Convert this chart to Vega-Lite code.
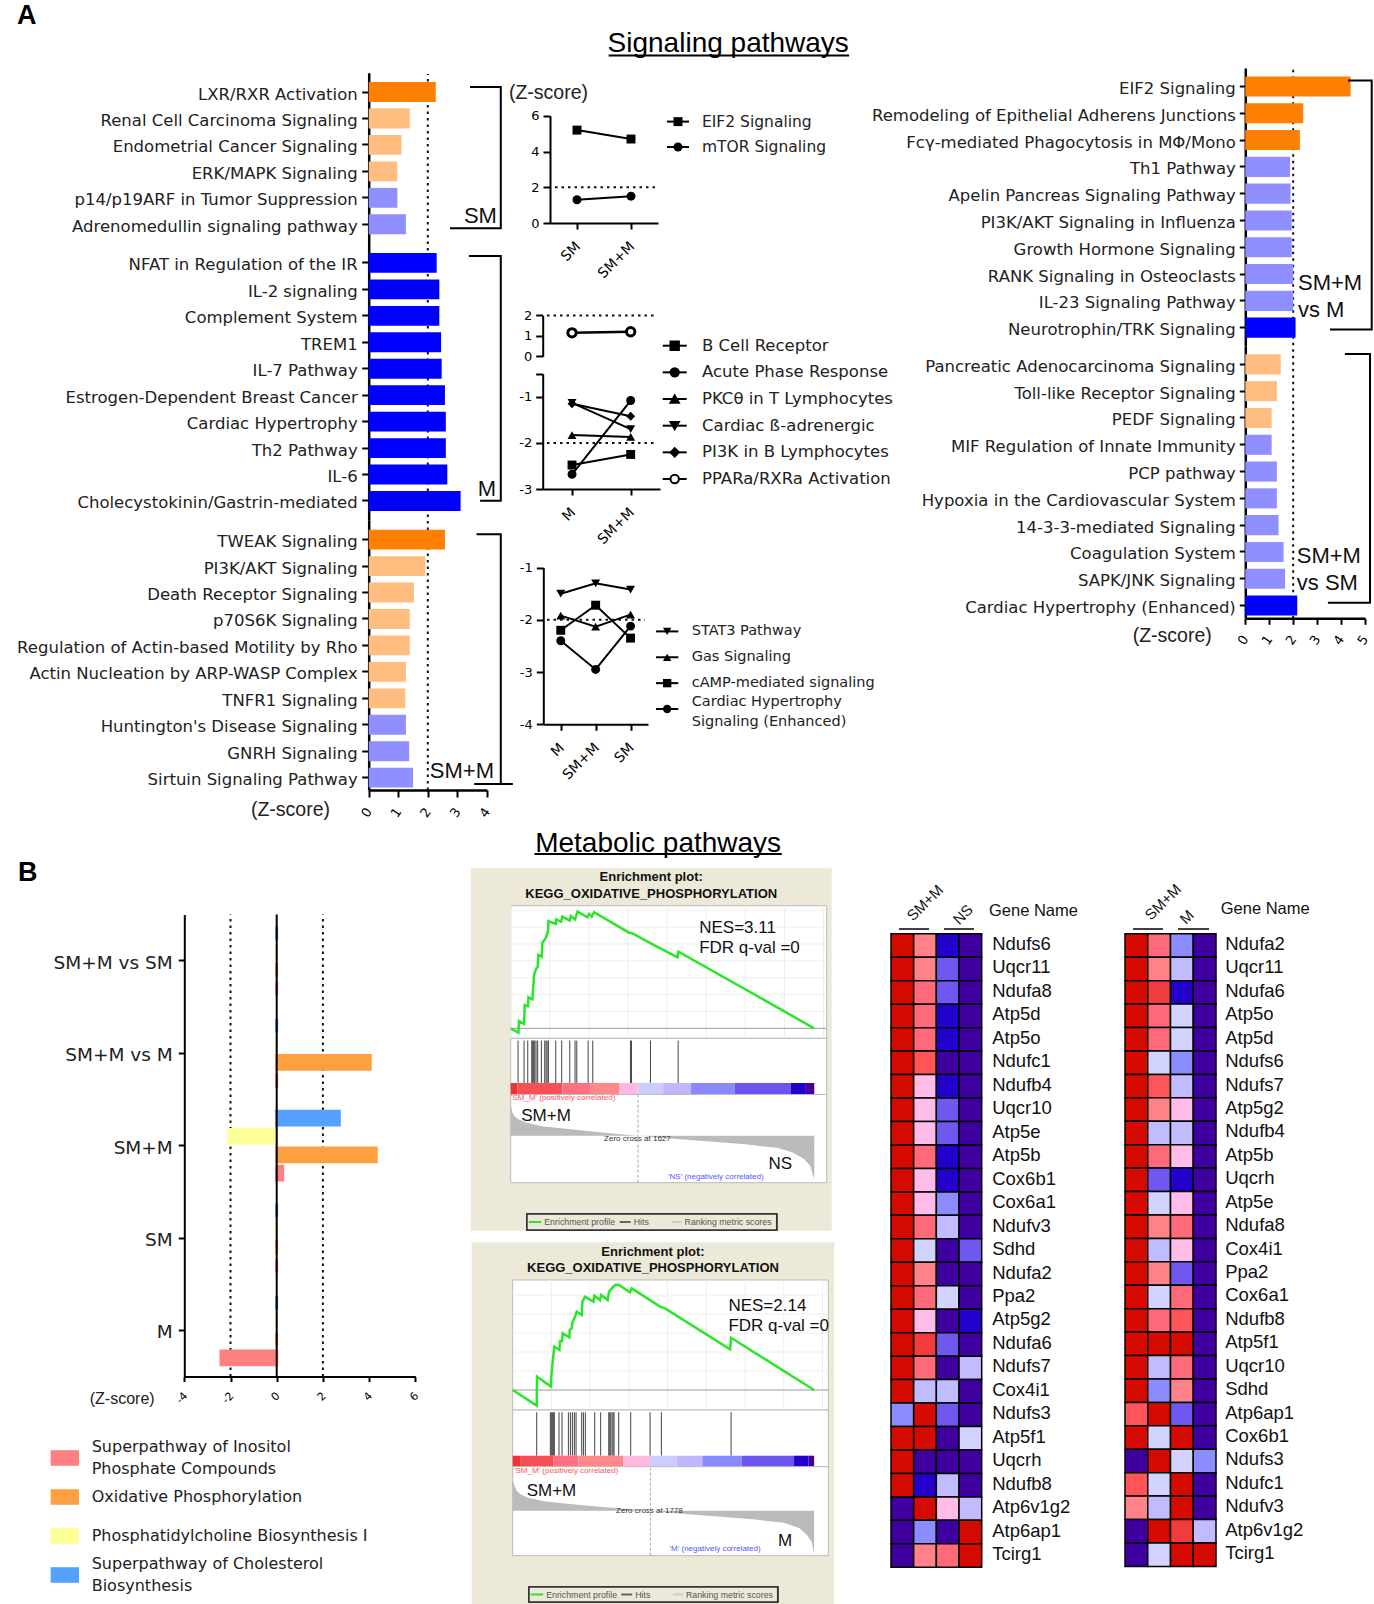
{"$schema":"https://vega.github.io/schema/vega-lite/v6.json","width":1374,"height":1604,"autosize":"none","padding":0,"background":"white",
"config":{"view":{"stroke":null},"font":"Liberation Sans","axis":{"grid":false,"zindex":1,"labelOverlap":false,"labelBound":false,"labelFlush":false,"titleFontWeight":"normal","titleFont":"Liberation Sans","labelFont":"Liberation Sans"}},
"resolve":{"scale":{"x":"independent","y":"independent","color":"independent","shape":"independent","stroke":"independent"},"axis":{"x":"independent","y":"independent"}},
"layer":[
{"layer":[
{"data":{"values":[{"t":"A"}]},"mark":{"type":"text","align":"left","baseline":"middle","fontWeight":"bold","fontSize":27,"font":"Liberation Sans","color":"#000"},"encoding":{"text":{"field":"t"},"x":{"datum":1.24,"scale":{"domain":[0,100],"range":[0,1374]},"axis":null},"y":{"datum":1.0,"scale":{"domain":[0,100],"range":[0,1604]},"axis":null}}},
{"data":{"values":[{"t":"B"}]},"mark":{"type":"text","align":"left","baseline":"middle","fontWeight":"bold","fontSize":27,"color":"#000"},"encoding":{"text":{"field":"t"},"x":{"datum":1.31,"axis":null},"y":{"datum":54.4,"axis":null}}},
{"data":{"values":[{"t":"Signaling pathways"}]},"mark":{"type":"text","align":"center","baseline":"middle","fontSize":28,"color":"#000"},"encoding":{"text":{"field":"t"},"x":{"datum":53.0,"axis":null},"y":{"datum":2.74,"axis":null}}},
{"data":{"values":[{"t":"Metabolic pathways"}]},"mark":{"type":"text","align":"center","baseline":"middle","fontSize":28,"color":"#000"},"encoding":{"text":{"field":"t"},"x":{"datum":47.9,"axis":null},"y":{"datum":52.62,"axis":null}}},
{"data":{"values":[{"u":"Signaling pathways"}]},"mark":{"type":"rule","strokeWidth":2,"color":"#000"},"encoding":{"x":{"datum":44.3,"axis":null},"x2":{"datum":61.8},"y":{"datum":3.46,"axis":null}}},
{"data":{"values":[{"u":"Metabolic pathways"}]},"mark":{"type":"rule","strokeWidth":2,"color":"#000"},"encoding":{"x":{"datum":38.9,"axis":null},"x2":{"datum":56.9},"y":{"datum":53.24,"axis":null}}}
]},
{"data":{"values":[{"threshold":2}]},"mark":{"type":"rule","strokeDash":[2.5,4],"strokeWidth":2,"color":"#111"},"encoding":{"x":{"field":"threshold","type":"quantitative","scale":{"domain":[0,4],"range":[368.7,486.9]},"axis":null},"y":{"datum":0,"scale":{"domain":[0,1],"range":[790,74]},"axis":null},"y2":{"datum":1}}},
{"data":{"values":[{"pathway":"LXR/RXR Activation","z":2.27,"level":"strong up"},{"pathway":"Renal Cell Carcinoma Signaling","z":1.39,"level":"weak up"},{"pathway":"Endometrial Cancer Signaling","z":1.11,"level":"weak up"},{"pathway":"ERK/MAPK Signaling","z":0.97,"level":"weak up"},{"pathway":"p14/p19ARF in Tumor Suppression","z":0.97,"level":"weak down"},{"pathway":"Adrenomedullin signaling pathway","z":1.26,"level":"weak down"}]},
"mark":"bar","encoding":{"y":{"field":"pathway","type":"nominal","sort":null,"scale":{"range":[72.7,243.6],"paddingInner":0.25,"paddingOuter":0.355},"axis":{"title":null,"orient":"left","offset":-368.7,"domainWidth":2.5,"domainColor":"#000","tickColor":"#000","tickWidth":2,"tickSize":7,"labelFont":"DejaVu Sans","labelFontSize":16.5,"labelPadding":4.5,"labelOffset":2.5,"labelLimit":500,"labelColor":"#222"}},"x":{"field":"z","type":"quantitative","scale":{"domain":[0,4],"range":[368.7,486.9]},"axis":null},"color":{"field":"level","type":"nominal","scale":{"domain":["strong up","weak up","weak down","strong down"],"range":["#FF7F00","#FFBD7F","#8F8FFF","#0000FF"]},"legend":null}}},
{"data":{"values":[{"pathway":"NFAT in Regulation of the IR","z":2.3,"level":"strong down"},{"pathway":"IL-2 signaling","z":2.39,"level":"strong down"},{"pathway":"Complement System","z":2.39,"level":"strong down"},{"pathway":"TREM1","z":2.45,"level":"strong down"},{"pathway":"IL-7 Pathway","z":2.47,"level":"strong down"},{"pathway":"Estrogen-Dependent Breast Cancer","z":2.58,"level":"strong down"},{"pathway":"Cardiac Hypertrophy","z":2.61,"level":"strong down"},{"pathway":"Th2 Pathway","z":2.61,"level":"strong down"},{"pathway":"IL-6","z":2.66,"level":"strong down"},{"pathway":"Cholecystokinin/Gastrin-mediated","z":3.11,"level":"strong down"}]},
"mark":"bar","encoding":{"y":{"field":"pathway","type":"nominal","sort":null,"scale":{"range":[243.6,520.3],"paddingInner":0.25,"paddingOuter":0.355},"axis":{"title":null,"orient":"left","offset":-368.7,"domainWidth":2.5,"domainColor":"#000","tickColor":"#000","tickWidth":2,"tickSize":7,"labelFont":"DejaVu Sans","labelFontSize":16.5,"labelPadding":4.5,"labelOffset":2.5,"labelLimit":500,"labelColor":"#222"}},"x":{"field":"z","type":"quantitative","scale":{"domain":[0,4],"range":[368.7,486.9]},"axis":null},"color":{"field":"level","type":"nominal","scale":{"domain":["strong up","weak up","weak down","strong down"],"range":["#FF7F00","#FFBD7F","#8F8FFF","#0000FF"]},"legend":null}}},
{"data":{"values":[{"pathway":"TWEAK Signaling","z":2.58,"level":"strong up"},{"pathway":"PI3K/AKT Signaling","z":1.92,"level":"weak up"},{"pathway":"Death Receptor Signaling","z":1.53,"level":"weak up"},{"pathway":"p70S6K Signaling","z":1.39,"level":"weak up"},{"pathway":"Regulation of Actin-based Motility by Rho","z":1.39,"level":"weak up"},{"pathway":"Actin Nucleation by ARP-WASP Complex","z":1.26,"level":"weak up"},{"pathway":"TNFR1 Signaling","z":1.24,"level":"weak up"},{"pathway":"Huntington's Disease Signaling","z":1.26,"level":"weak down"},{"pathway":"GNRH Signaling","z":1.37,"level":"weak down"},{"pathway":"Sirtuin Signaling Pathway","z":1.5,"level":"weak down"}]},
"mark":"bar","encoding":{"y":{"field":"pathway","type":"nominal","sort":null,"scale":{"range":[520.3,790],"paddingInner":0.25,"paddingOuter":0.2225,"align":0.798},"axis":{"title":null,"orient":"left","offset":-368.7,"domainWidth":2.5,"domainColor":"#000","tickColor":"#000","tickWidth":2,"tickSize":7,"labelFont":"DejaVu Sans","labelFontSize":16.5,"labelPadding":4.5,"labelOffset":2.5,"labelLimit":500,"labelColor":"#222"}},"x":{"field":"z","type":"quantitative","scale":{"domain":[0,4],"range":[368.7,486.9]},"axis":{"title":"(Z-score)","orient":"bottom","offset":-814,"values":[0,1,2,3,4],"labelAngle":-55,"domainWidth":2.5,"domainColor":"#000","tickColor":"#000","tickWidth":2,"tickSize":7,"labelFont":"DejaVu Sans","labelFontSize":13,"labelPadding":12,"titleX":290,"titleY":10,"titleFontSize":19.5,"titleColor":"#222"}},"color":{"field":"level","type":"nominal","scale":{"domain":["strong up","weak up","weak down","strong down"],"range":["#FF7F00","#FFBD7F","#8F8FFF","#0000FF"]},"legend":null}}},
{"layer":[
{"data":{"values":[{"z":3.43,"edge":"top","n":1},{"z":4.47,"edge":"top","n":2},{"z":4.47,"edge":"bottom","n":3},{"z":2.75,"edge":"bottom","n":4}]},"mark":{"type":"line","color":"#000","strokeWidth":2},"encoding":{"x":{"field":"z","type":"quantitative","scale":{"domain":[0,4],"range":[368.7,486.9]},"axis":null},"y":{"field":"edge","type":"nominal","scale":{"type":"point","domain":["top","bottom"],"range":[87,228.3],"padding":0},"axis":null},"order":{"field":"n"}}},
{"data":{"values":[{"t":"SM"}]},"mark":{"type":"text","align":"right","baseline":"middle","fontSize":22,"dy":-12.6,"color":"#111"},"encoding":{"text":{"field":"t"},"x":{"datum":4.34,"axis":null},"y":{"datum":"bottom","type":"nominal","axis":null}}}
]},
{"layer":[
{"data":{"values":[{"z":3.39,"edge":"top","n":1},{"z":4.47,"edge":"top","n":2},{"z":4.47,"edge":"bottom","n":3},{"z":3.77,"edge":"bottom","n":4}]},"mark":{"type":"line","color":"#000","strokeWidth":2},"encoding":{"x":{"field":"z","type":"quantitative","scale":{"domain":[0,4],"range":[368.7,486.9]},"axis":null},"y":{"field":"edge","type":"nominal","scale":{"type":"point","domain":["top","bottom"],"range":[256,500.7],"padding":0},"axis":null},"order":{"field":"n"}}},
{"data":{"values":[{"t":"M"}]},"mark":{"type":"text","align":"right","baseline":"middle","fontSize":22,"dy":-11.4,"color":"#111"},"encoding":{"text":{"field":"t"},"x":{"datum":4.31,"axis":null},"y":{"datum":"bottom","type":"nominal","axis":null}}}
]},
{"layer":[
{"data":{"values":[{"z":3.65,"edge":"top","n":1},{"z":4.47,"edge":"top","n":2},{"z":4.47,"edge":"bottom","n":3},{"z":3.57,"edge":"bottom","n":4},{"z":4.88,"edge":"bottom","n":5}]},"mark":{"type":"line","color":"#000","strokeWidth":2},"encoding":{"x":{"field":"z","type":"quantitative","scale":{"domain":[0,4],"range":[368.7,486.9]},"axis":null},"y":{"field":"edge","type":"nominal","scale":{"type":"point","domain":["top","bottom"],"range":[534.3,784],"padding":0},"axis":null},"order":{"field":"n"}}},
{"data":{"values":[{"t":"SM+M"}]},"mark":{"type":"text","align":"right","baseline":"middle","fontSize":22,"dy":-13.3,"color":"#111"},"encoding":{"text":{"field":"t"},"x":{"datum":4.24,"axis":null},"y":{"datum":"bottom","type":"nominal","axis":null}}}
]},
{"data":{"values":[{"threshold":2}]},"mark":{"type":"rule","strokeDash":[2.5,4],"strokeWidth":2,"color":"#111"},"encoding":{"y":{"field":"threshold","type":"quantitative","scale":{"domain":[0,6],"range":[223,115.8]},"axis":null},"x":{"datum":0,"scale":{"domain":[0,1],"range":[555,655]},"axis":null},"x2":{"datum":1}}},
{"data":{"values":[{"pathway":"EIF2 Signaling","condition":"SM","z":5.2},{"pathway":"EIF2 Signaling","condition":"SM+M","z":4.7},{"pathway":"mTOR Signaling","condition":"SM","z":1.3},{"pathway":"mTOR Signaling","condition":"SM+M","z":1.5}]},
"encoding":{"x":{"field":"condition","type":"nominal","scale":{"type":"point","domain":["SM","SM+M"],"range":[550,658],"padding":0.5},"axis":{"title":null,"orient":"bottom","offset":-1381,"labelAngle":-45,"domainWidth":2,"domainColor":"#000","tickColor":"#000","tickWidth":2,"tickSize":6,"labelFont":"DejaVu Sans","labelFontSize":14,"labelPadding":10,"labelOffset":-4,"labelAlign":"right"}},"y":{"field":"z","type":"quantitative","scale":{"domain":[0,6],"range":[223,115.8]},"axis":{"title":"(Z-score)","orient":"left","offset":-550,"values":[0,2,4,6],"domainWidth":2,"domainColor":"#000","tickColor":"#000","tickWidth":2,"tickSize":7,"labelFont":"DejaVu Sans","labelFontSize":13,"labelPadding":4,"titleAngle":0,"titleAlign":"center","titleBaseline":"middle","titleX":-2,"titleY":92,"titleFontSize":19.5,"titleColor":"#222"}}},
"layer":[{"mark":{"type":"line","color":"#000","strokeWidth":2},"encoding":{"detail":{"field":"pathway"}}},
{"mark":{"type":"point","filled":true,"color":"#000","size":80,"opacity":1},"encoding":{"shape":{"field":"pathway","type":"nominal","scale":{"domain":["EIF2 Signaling","mTOR Signaling"],"range":["square","circle"]},"legend":null}}}]},
{"data":{"values":[{"pathway":"EIF2 Signaling"},{"pathway":"mTOR Signaling"}]},"encoding":{"y":{"field":"pathway","type":"nominal","scale":{"type":"point","domain":["EIF2 Signaling","mTOR Signaling"],"range":[121.6,147],"padding":0},"axis":null}},
"layer":[{"mark":{"type":"rule","color":"#000","strokeWidth":2},"encoding":{"x":{"datum":0,"scale":{"domain":[0,1],"range":[667,689]},"axis":null},"x2":{"datum":1}}},
{"mark":{"type":"point","filled":true,"color":"#000","size":80,"opacity":1},"encoding":{"x":{"datum":0.5,"axis":null},"shape":{"field":"pathway","type":"nominal","scale":{"domain":["EIF2 Signaling","mTOR Signaling"],"range":["square","circle"]},"legend":null}}},
{"mark":{"type":"text","align":"left","baseline":"middle","font":"DejaVu Sans","fontSize":15.5,"dx":13,"color":"#222"},"encoding":{"x":{"datum":1,"axis":null},"text":{"field":"pathway"}}}]},
{"data":{"values":[{"threshold":2}]},"mark":{"type":"rule","strokeDash":[2.5,4],"strokeWidth":2,"color":"#111"},"encoding":{"y":{"field":"threshold","type":"quantitative","scale":{"domain":[0,2],"range":[356.4,315.4]},"axis":null},"x":{"datum":0,"scale":{"domain":[0,1],"range":[547,657]},"axis":null},"x2":{"datum":1}}},
{"data":{"values":[{"pathway":"PPARa/RXRa Activation","condition":"M","z":1.15},{"pathway":"PPARa/RXRa Activation","condition":"SM+M","z":1.2}]},
"encoding":{"x":{"field":"condition","type":"nominal","scale":{"type":"point","domain":["M","SM+M"],"range":[542.7,660],"padding":0.5},"axis":null},"y":{"field":"z","type":"quantitative","scale":{"domain":[0,2],"range":[356.4,315.4]},"axis":{"title":null,"orient":"left","offset":-542.7,"values":[0,1,2],"labelExpr":"''+datum.value","domainWidth":2,"domainColor":"#000","tickColor":"#000","tickWidth":2,"tickSize":7,"labelFont":"DejaVu Sans","labelFontSize":13,"labelPadding":4}}},
"layer":[{"mark":{"type":"line","color":"#000","strokeWidth":2.5}},{"mark":{"type":"point","shape":"circle","filled":true,"fill":"#fff","stroke":"#000","strokeWidth":3,"size":70,"opacity":1}}]},
{"data":{"values":[{"threshold":-2}]},"mark":{"type":"rule","strokeDash":[2.5,4],"strokeWidth":2,"color":"#111"},"encoding":{"y":{"field":"threshold","type":"quantitative","scale":{"domain":[-3,-0.5],"range":[489,373.8]},"axis":null},"x":{"datum":0,"scale":{"domain":[0,1],"range":[547,657]},"axis":null},"x2":{"datum":1}}},
{"data":{"values":[{"pathway":"B Cell Receptor","condition":"M","z":-2.48},{"pathway":"B Cell Receptor","condition":"SM+M","z":-2.25},{"pathway":"Acute Phase Response","condition":"M","z":-2.68},{"pathway":"Acute Phase Response","condition":"SM+M","z":-1.08},{"pathway":"PKCθ in T Lymphocytes","condition":"M","z":-1.83},{"pathway":"PKCθ in T Lymphocytes","condition":"SM+M","z":-1.87},{"pathway":"Cardiac ß-adrenergic","condition":"M","z":-1.13},{"pathway":"Cardiac ß-adrenergic","condition":"SM+M","z":-1.7},{"pathway":"PI3K in B Lymphocytes","condition":"M","z":-1.15},{"pathway":"PI3K in B Lymphocytes","condition":"SM+M","z":-1.42}]},
"encoding":{"x":{"field":"condition","type":"nominal","scale":{"type":"point","domain":["M","SM+M"],"range":[542.7,660],"padding":0.5},"axis":{"title":null,"orient":"bottom","offset":-1115,"labelAngle":-45,"domainWidth":2,"domainColor":"#000","tickColor":"#000","tickWidth":2,"tickSize":6,"labelFont":"DejaVu Sans","labelFontSize":14,"labelPadding":10,"labelOffset":-4,"labelAlign":"right"}},"y":{"field":"z","type":"quantitative","scale":{"domain":[-3,-0.5],"range":[489,373.8]},"axis":{"title":null,"orient":"left","offset":-542.7,"values":[-3,-2,-1,-0.5],"labelExpr":"datum.value==-0.5?'':''+datum.value","domainWidth":2,"domainColor":"#000","tickColor":"#000","tickWidth":2,"tickSize":7,"labelFont":"DejaVu Sans","labelFontSize":13,"labelPadding":4}}},
"layer":[{"mark":{"type":"line","color":"#000","strokeWidth":2},"encoding":{"detail":{"field":"pathway"}}},
{"mark":{"type":"point","filled":true,"color":"#000","size":80,"opacity":1},"encoding":{"shape":{"field":"pathway","type":"nominal","scale":{"domain":["B Cell Receptor","Acute Phase Response","PKCθ in T Lymphocytes","Cardiac ß-adrenergic","PI3K in B Lymphocytes"],"range":["square","circle","triangle-up","triangle-down","diamond"]},"legend":null}}}]},
{"data":{"values":[{"pathway":"B Cell Receptor"},{"pathway":"Acute Phase Response"},{"pathway":"PKCθ in T Lymphocytes"},{"pathway":"Cardiac ß-adrenergic"},{"pathway":"PI3K in B Lymphocytes"},{"pathway":"PPARa/RXRa Activation"}]},"encoding":{"y":{"field":"pathway","type":"nominal","sort":null,"scale":{"type":"point","range":[345.7,479],"padding":0},"axis":null}},
"layer":[{"mark":{"type":"rule","color":"#000","strokeWidth":2},"encoding":{"x":{"datum":0,"scale":{"domain":[0,1],"range":[662.7,686.7]},"axis":null},"x2":{"datum":1}}},
{"mark":{"type":"point","filled":true,"stroke":"#000","size":70,"opacity":1},"encoding":{"x":{"datum":0.5,"axis":null},"shape":{"field":"pathway","type":"nominal","scale":{"domain":["B Cell Receptor","Acute Phase Response","PKCθ in T Lymphocytes","Cardiac ß-adrenergic","PI3K in B Lymphocytes","PPARa/RXRa Activation"],"range":["square","circle","triangle-up","triangle-down","diamond","circle"]},"legend":null},"fill":{"field":"pathway","type":"nominal","scale":{"domain":["B Cell Receptor","Acute Phase Response","PKCθ in T Lymphocytes","Cardiac ß-adrenergic","PI3K in B Lymphocytes","PPARa/RXRa Activation"],"range":["#000","#000","#000","#000","#000","#fff"]},"legend":null}}},
{"mark":{"type":"text","align":"left","baseline":"middle","font":"DejaVu Sans","fontSize":16.5,"dx":15.3,"color":"#222"},"encoding":{"x":{"datum":1,"axis":null},"text":{"field":"pathway"}}}]},
{"data":{"values":[{"threshold":-2}]},"mark":{"type":"rule","strokeDash":[2.5,4],"strokeWidth":2,"color":"#111"},"encoding":{"y":{"field":"threshold","type":"quantitative","scale":{"domain":[-4,-1],"range":[724.3,567.6]},"axis":null},"x":{"datum":0,"scale":{"domain":[0,1],"range":[547,645]},"axis":null},"x2":{"datum":1}}},
{"data":{"values":[{"pathway":"STAT3 Pathway","condition":"M","z":-1.5},{"pathway":"STAT3 Pathway","condition":"SM+M","z":-1.3},{"pathway":"STAT3 Pathway","condition":"SM","z":-1.42},{"pathway":"Gas Signaling","condition":"M","z":-1.92},{"pathway":"Gas Signaling","condition":"SM+M","z":-2.13},{"pathway":"Gas Signaling","condition":"SM","z":-1.9},{"pathway":"cAMP-mediated signaling","condition":"M","z":-2.2},{"pathway":"cAMP-mediated signaling","condition":"SM+M","z":-1.72},{"pathway":"cAMP-mediated signaling","condition":"SM","z":-2.35},{"pathway":"Cardiac Hypertrophy Signaling (Enhanced)","condition":"M","z":-2.4},{"pathway":"Cardiac Hypertrophy Signaling (Enhanced)","condition":"SM+M","z":-2.95},{"pathway":"Cardiac Hypertrophy Signaling (Enhanced)","condition":"SM","z":-2.12}]},
"encoding":{"x":{"field":"condition","type":"nominal","sort":["M","SM+M","SM"],"scale":{"type":"point","range":[543.3,648],"padding":0.5},"axis":{"title":null,"orient":"bottom","offset":-879.7,"labelAngle":-45,"domainWidth":2,"domainColor":"#000","tickColor":"#000","tickWidth":2,"tickSize":6,"labelFont":"DejaVu Sans","labelFontSize":14,"labelPadding":10,"labelOffset":-4,"labelAlign":"right"}},"y":{"field":"z","type":"quantitative","scale":{"domain":[-4,-1],"range":[724.3,567.6]},"axis":{"title":null,"orient":"left","offset":-543.3,"values":[-4,-3,-2,-1],"labelExpr":"''+datum.value","domainWidth":2,"domainColor":"#000","tickColor":"#000","tickWidth":2,"tickSize":7,"labelFont":"DejaVu Sans","labelFontSize":13,"labelPadding":4}}},
"layer":[{"mark":{"type":"line","color":"#000","strokeWidth":2},"encoding":{"detail":{"field":"pathway"}}},
{"mark":{"type":"point","filled":true,"color":"#000","size":80,"opacity":1},"encoding":{"shape":{"field":"pathway","type":"nominal","scale":{"domain":["STAT3 Pathway","Gas Signaling","cAMP-mediated signaling","Cardiac Hypertrophy Signaling (Enhanced)"],"range":["triangle-down","triangle-up","square","circle"]},"legend":null}}}]},
{"data":{"values":[{"pathway":"STAT3 Pathway"},{"pathway":"Gas Signaling"},{"pathway":"cAMP-mediated signaling"},{"pathway":"Cardiac Hypertrophy\nSignaling (Enhanced)"}]},"encoding":{"y":{"field":"pathway","type":"nominal","sort":null,"scale":{"type":"point","range":[631.4,709],"padding":0},"axis":null}},
"layer":[{"mark":{"type":"rule","color":"#000","strokeWidth":2},"encoding":{"x":{"datum":0,"scale":{"domain":[0,1],"range":[656,678.3]},"axis":null},"x2":{"datum":1}}},
{"mark":{"type":"point","filled":true,"color":"#000","size":70,"opacity":1},"encoding":{"x":{"datum":0.5,"axis":null},"shape":{"field":"pathway","type":"nominal","scale":{"domain":["STAT3 Pathway","Gas Signaling","cAMP-mediated signaling","Cardiac Hypertrophy\nSignaling (Enhanced)"],"range":["triangle-down","triangle-up","square","circle"]},"legend":null}}},
{"transform":[{"filter":"indexof(datum.pathway,'\\n')<0"}],"mark":{"type":"text","align":"left","baseline":"middle","font":"DejaVu Sans","fontSize":14.5,"dx":13.4,"color":"#222"},"encoding":{"x":{"datum":1,"axis":null},"text":{"field":"pathway"}}},
{"transform":[{"filter":"indexof(datum.pathway,'\\n')>=0"}],"mark":{"type":"text","align":"left","baseline":"middle","font":"DejaVu Sans","fontSize":14.5,"dx":13.4,"dy":-7,"lineBreak":"\n","lineHeight":20,"color":"#222"},"encoding":{"x":{"datum":1,"axis":null},"text":{"field":"pathway"}}}]},
{"data":{"values":[{"threshold":2}]},"mark":{"type":"rule","strokeDash":[2.5,4],"strokeWidth":2,"color":"#111"},"encoding":{"x":{"field":"threshold","type":"quantitative","scale":{"domain":[0,5],"range":[1245.3,1365]},"axis":null},"y":{"datum":0,"scale":{"domain":[0,1],"range":[618.3,68.7]},"axis":null},"y2":{"datum":1}}},
{"data":{"values":[{"pathway":"EIF2 Signaling","z":4.4,"level":"strong up"},{"pathway":"Remodeling of Epithelial Adherens Junctions","z":2.42,"level":"strong up"},{"pathway":"Fcγ-mediated Phagocytosis in MΦ/Mono","z":2.28,"level":"strong up"},{"pathway":"Th1 Pathway","z":1.87,"level":"weak down"},{"pathway":"Apelin Pancreas Signaling Pathway","z":1.89,"level":"weak down"},{"pathway":"PI3K/AKT Signaling in Influenza","z":1.94,"level":"weak down"},{"pathway":"Growth Hormone Signaling","z":1.94,"level":"weak down"},{"pathway":"RANK Signaling in Osteoclasts","z":2.0,"level":"weak down"},{"pathway":"IL-23 Signaling Pathway","z":2.0,"level":"weak down"},{"pathway":"Neurotrophin/TRK Signaling","z":2.1,"level":"strong down"}]},
"mark":"bar","encoding":{"y":{"field":"pathway","type":"nominal","sort":null,"scale":{"range":[68.1,346],"paddingInner":0.25,"paddingOuter":0.31},"axis":{"title":null,"orient":"left","offset":-1245.3,"domainWidth":2.5,"domainColor":"#000","tickColor":"#000","tickWidth":2,"tickSize":6,"labelFont":"DejaVu Sans","labelFontSize":16.5,"labelPadding":4,"labelOffset":2.5,"labelLimit":500,"labelColor":"#222"}},"x":{"field":"z","type":"quantitative","scale":{"domain":[0,5],"range":[1245.3,1365]},"axis":null},"color":{"field":"level","type":"nominal","scale":{"domain":["strong up","weak up","weak down","strong down"],"range":["#FF7F00","#FFBD7F","#8F8FFF","#0000FF"]},"legend":null}}},
{"data":{"values":[{"pathway":"Pancreatic Adenocarcinoma Signaling","z":1.48,"level":"weak up"},{"pathway":"Toll-like Receptor Signaling","z":1.32,"level":"weak up"},{"pathway":"PEDF Signaling","z":1.1,"level":"weak up"},{"pathway":"MIF Regulation of Innate Immunity","z":1.1,"level":"weak down"},{"pathway":"PCP pathway","z":1.32,"level":"weak down"},{"pathway":"Hypoxia in the Cardiovascular System","z":1.32,"level":"weak down"},{"pathway":"14-3-3-mediated Signaling","z":1.39,"level":"weak down"},{"pathway":"Coagulation System","z":1.6,"level":"weak down"},{"pathway":"SAPK/JNK Signaling","z":1.66,"level":"weak down"},{"pathway":"Cardiac Hypertrophy (Enhanced)","z":2.17,"level":"strong down"}]},
"mark":"bar","encoding":{"y":{"field":"pathway","type":"nominal","sort":null,"scale":{"range":[346,618.3],"paddingInner":0.25,"paddingOuter":0.205,"align":0.756},"axis":{"title":null,"orient":"left","offset":-1245.3,"domainWidth":2.5,"domainColor":"#000","tickColor":"#000","tickWidth":2,"tickSize":6,"labelFont":"DejaVu Sans","labelFontSize":16.5,"labelPadding":4,"labelOffset":2.5,"labelLimit":500,"labelColor":"#222"}},"x":{"field":"z","type":"quantitative","scale":{"domain":[0,5],"range":[1245.3,1365]},"axis":{"title":"(Z-score)","orient":"bottom","offset":-985.7,"values":[0,1,2,3,4,5],"labelAngle":-55,"domainWidth":2.5,"domainColor":"#000","tickColor":"#000","tickWidth":2,"tickSize":6,"labelFont":"DejaVu Sans","labelFontSize":13,"labelPadding":12,"titleX":1171.7,"titleY":8,"titleFontSize":19.5,"titleColor":"#222"}},"color":{"field":"level","type":"nominal","scale":{"domain":["strong up","weak up","weak down","strong down"],"range":["#FF7F00","#FFBD7F","#8F8FFF","#0000FF"]},"legend":null}}},
{"layer":[
{"data":{"values":[{"z":4.29,"edge":"top","n":1},{"z":5.28,"edge":"top","n":2},{"z":5.28,"edge":"bottom","n":3},{"z":3.54,"edge":"bottom","n":4}]},"mark":{"type":"line","color":"#000","strokeWidth":2},"encoding":{"x":{"field":"z","type":"quantitative","scale":{"domain":[0,5],"range":[1245.3,1365]},"axis":null},"y":{"field":"edge","type":"nominal","scale":{"type":"point","domain":["top","bottom"],"range":[80.5,329.6],"padding":0},"axis":null},"order":{"field":"n"}}},
{"data":{"values":[{"t":"SM+M\nvs M"}]},"mark":{"type":"text","align":"left","baseline":"middle","fontSize":22,"lineBreak":"\n","lineHeight":27,"dy":-46.6,"color":"#111"},"encoding":{"text":{"field":"t"},"x":{"datum":2.2,"axis":null},"y":{"datum":"bottom","type":"nominal","axis":null}}}
]},
{"layer":[
{"data":{"values":[{"z":4.16,"edge":"top","n":1},{"z":5.21,"edge":"top","n":2},{"z":5.21,"edge":"bottom","n":3},{"z":3.45,"edge":"bottom","n":4}]},"mark":{"type":"line","color":"#000","strokeWidth":2},"encoding":{"x":{"field":"z","type":"quantitative","scale":{"domain":[0,5],"range":[1245.3,1365]},"axis":null},"y":{"field":"edge","type":"nominal","scale":{"type":"point","domain":["top","bottom"],"range":[354,602.7],"padding":0},"axis":null},"order":{"field":"n"}}},
{"data":{"values":[{"t":"SM+M\nvs SM"}]},"mark":{"type":"text","align":"left","baseline":"middle","fontSize":22,"lineBreak":"\n","lineHeight":27,"dy":-46.7,"color":"#111"},"encoding":{"text":{"field":"t"},"x":{"datum":2.15,"axis":null},"y":{"datum":"bottom","type":"nominal","axis":null}}}
]},
{"data":{"values":[{"threshold":-2},{"threshold":2}]},"mark":{"type":"rule","strokeDash":[2.5,4],"strokeWidth":2,"color":"#111"},"encoding":{"x":{"field":"threshold","type":"quantitative","scale":{"domain":[-4,6],"range":[184.3,415.3]},"axis":null},"y":{"datum":0,"scale":{"domain":[0,1],"range":[1376.6,914.6]},"axis":null},"y2":{"datum":1}}},
{"data":{"values":[{"group":"SM+M vs SM","pathway":"Cholesterol","z":0},{"group":"SM+M vs SM","pathway":"Phosphatidylcholine","z":0},{"group":"SM+M vs SM","pathway":"OxPhos","z":0},{"group":"SM+M vs SM","pathway":"Inositol","z":0},{"group":"SM+M vs M","pathway":"Cholesterol","z":0},{"group":"SM+M vs M","pathway":"Phosphatidylcholine","z":0},{"group":"SM+M vs M","pathway":"OxPhos","z":4.05},{"group":"SM+M vs M","pathway":"Inositol","z":0},{"group":"SM+M","pathway":"Cholesterol","z":2.71},{"group":"SM+M","pathway":"Phosphatidylcholine","z":-2.08},{"group":"SM+M","pathway":"OxPhos","z":4.31},{"group":"SM+M","pathway":"Inositol","z":0.26},{"group":"SM","pathway":"Cholesterol","z":0},{"group":"SM","pathway":"Phosphatidylcholine","z":0},{"group":"SM","pathway":"OxPhos","z":0},{"group":"SM","pathway":"Inositol","z":0},{"group":"M","pathway":"Cholesterol","z":0},{"group":"M","pathway":"Phosphatidylcholine","z":0},{"group":"M","pathway":"OxPhos","z":0},{"group":"M","pathway":"Inositol","z":-2.41}]},
"mark":{"type":"bar","strokeWidth":3},"encoding":{"y":{"field":"group","type":"nominal","sort":null,"scale":{"range":[914.6,1376.6],"paddingInner":0,"paddingOuter":0},"axis":{"title":null,"orient":"left","offset":-184.3,"domainWidth":2,"domainColor":"#000","tickColor":"#000","tickWidth":2,"tickSize":6,"labelFont":"DejaVu Sans","labelFontSize":18.5,"labelPadding":6,"labelOffset":2,"labelLimit":300,"labelColor":"#222"}},"yOffset":{"field":"pathway","type":"nominal","sort":["Cholesterol","Phosphatidylcholine","OxPhos","Inositol"],"scale":{"range":[0,92.4],"paddingInner":0.25,"paddingOuter":0.64}},"x":{"field":"z","type":"quantitative","scale":{"domain":[-4,6],"range":[184.3,415.3]},"axis":{"title":"(Z-score)","orient":"bottom","offset":-227.4,"values":[-4,-2,0,2,4,6],"labelExpr":"''+datum.value","labelAngle":-45,"domainWidth":2,"domainColor":"#000","tickColor":"#000","tickWidth":2,"tickSize":5,"labelFont":"DejaVu Sans","labelFontSize":11,"labelPadding":8,"labelOffset":-3,"titleX":121.7,"titleY":14,"titleFontSize":16,"titleColor":"#222"}},"color":{"field":"pathway","type":"nominal","scale":{"domain":["Cholesterol","Phosphatidylcholine","OxPhos","Inositol"],"range":["#55A1FF","#FFFF99","#FFA040","#FF8080"]},"legend":null},"stroke":{"field":"pathway","type":"nominal","scale":{"domain":["Cholesterol","Phosphatidylcholine","OxPhos","Inositol"],"range":["#55A1FF","#FFFF99","#FFA040","#FF8080"]},"legend":null}}},
{"data":{"values":[{"baseline":0}]},"mark":{"type":"rule","strokeWidth":2,"color":"#000"},"encoding":{"x":{"field":"baseline","type":"quantitative","scale":{"domain":[-4,6],"range":[184.3,415.3]},"axis":null},"y":{"datum":0,"scale":{"domain":[0,1],"range":[1376.6,914.6]},"axis":null},"y2":{"datum":1}}},
{"data":{"values":[{"pathway":"Superpathway of Inositol\nPhosphate Compounds"},{"pathway":"Oxidative Phosphorylation"},{"pathway":"Phosphatidylcholine Biosynthesis I"},{"pathway":"Superpathway of Cholesterol\nBiosynthesis"}]},"encoding":{"y":{"field":"pathway","type":"nominal","sort":null,"scale":{"range":[1438.5,1594.5],"paddingInner":0.6,"paddingOuter":0.3},"axis":null}},
"layer":[{"mark":"bar","encoding":{"x":{"datum":0,"scale":{"domain":[0,1],"range":[50.7,79]},"axis":null},"x2":{"datum":1},"color":{"field":"pathway","type":"nominal","sort":null,"scale":{"range":["#FF8080","#FFA040","#FFFF99","#55A1FF"]},"legend":null}}},
{"transform":[{"filter":"indexof(datum.pathway,'\\n')<0"}],"mark":{"type":"text","align":"left","baseline":"middle","font":"DejaVu Sans","fontSize":16,"dx":12.7,"color":"#222"},"encoding":{"x":{"datum":1,"axis":null},"text":{"field":"pathway"}}},
{"transform":[{"filter":"indexof(datum.pathway,'\\n')>=0"}],"mark":{"type":"text","align":"left","baseline":"middle","font":"DejaVu Sans","fontSize":16,"dx":12.7,"dy":-11,"lineBreak":"\n","lineHeight":22,"color":"#222"},"encoding":{"x":{"datum":1,"axis":null},"text":{"field":"pathway"}}}]},

{"data":{"values":[{"t":"Enrichment plot:\nKEGG_OXIDATIVE_PHOSPHORYLATION"}]},"layer":[
{"mark":{"type":"rect","color":"#ECE9D8"},"encoding":{"x":{"datum":0,"scale":{"domain":[0,1],"range":[470.7,831.7]},"axis":null},"x2":{"datum":1},"y":{"datum":0,"scale":{"domain":[0,1],"range":[868.3,1230.7]},"axis":null},"y2":{"datum":1}}},
{"mark":{"type":"text","align":"center","baseline":"middle","fontWeight":"bold","fontSize":13,"lineBreak":"\n","lineHeight":16.5,"color":"#111"},"encoding":{"text":{"field":"t"},"x":{"datum":0.5,"axis":null},"y":{"datum":0.025,"axis":null}}}]},
{"layer":[
{"data":{"values":[{"plot":"ES"}]},"mark":{"type":"rect","fill":"#fff","stroke":"#bbb","strokeWidth":1},"encoding":{"x":{"datum":0,"scale":{"domain":[0,4040],"range":[510.7,826.7],"nice":false},"axis":null},"x2":{"datum":4040},"y":{"datum":-0.059,"scale":{"domain":[-0.059,0.727],"range":[1038.3,905.7],"nice":false},"axis":null},"y2":{"datum":0.727}}},
{"data":{"values":[{"rank":0},{"rank":500},{"rank":1000},{"rank":1500},{"rank":2000},{"rank":2500},{"rank":3000},{"rank":3500},{"rank":4000}]},"mark":{"type":"rule","color":"#EEE","strokeWidth":1},"encoding":{"x":{"field":"rank","type":"quantitative","axis":null},"y":{"datum":-0.059,"axis":null},"y2":{"datum":0.727}}},
{"data":{"values":[{"es":0.1},{"es":0.2},{"es":0.3},{"es":0.4},{"es":0.5},{"es":0.6},{"es":0.7}]},"mark":{"type":"rule","color":"#EEE","strokeWidth":1},"encoding":{"y":{"field":"es","type":"quantitative","axis":null},"x":{"datum":0,"axis":null},"x2":{"datum":4040}}},
{"data":{"values":[{"es":0}]},"mark":{"type":"rule","color":"#999","strokeWidth":1},"encoding":{"y":{"field":"es","type":"quantitative","axis":null},"x":{"datum":0,"axis":null},"x2":{"datum":4040}}},
{"data":{"values":[{"rank":0,"es":0},{"rank":98,"es":-0.026},{"rank":107,"es":0.043},{"rank":171,"es":0.026},{"rank":179,"es":0.138},{"rank":222,"es":0.132},{"rank":226,"es":0.184},{"rank":277,"es":0.172},{"rank":299,"es":0.316},{"rank":328,"es":0.356},{"rank":345,"es":0.362},{"rank":354,"es":0.435},{"rank":397,"es":0.425},{"rank":405,"es":0.508},{"rank":448,"es":0.534},{"rank":478,"es":0.577},{"rank":482,"es":0.636},{"rank":576,"es":0.619},{"rank":584,"es":0.646},{"rank":644,"es":0.632},{"rank":661,"es":0.662},{"rank":755,"es":0.638},{"rank":768,"es":0.666},{"rank":823,"es":0.646},{"rank":853,"es":0.692},{"rank":981,"es":0.658},{"rank":1002,"es":0.678},{"rank":1036,"es":0.662},{"rank":1066,"es":0.688},{"rank":1514,"es":0.567},{"rank":1557,"es":0.563},{"rank":1791,"es":0.504},{"rank":2132,"es":0.421},{"rank":2145,"es":0.455},{"rank":3881,"es":0}]},"mark":{"type":"line","color":"#2AE62A","strokeWidth":2.5},"encoding":{"x":{"field":"rank","type":"quantitative","axis":null},"y":{"field":"es","type":"quantitative","axis":{"title":"Enrichment score (ES)","orient":"left","offset":-510.7,"values":[0,0.1,0.2,0.3,0.4,0.5,0.6,0.7],"format":".1f","domain":false,"ticks":false,"labelFontSize":8,"labelColor":"#555","labelPadding":3,"titleFontSize":9,"titleColor":"#555","titleX":-25,"titleY":972.7}}}},
{"data":{"values":[{"t":"NES=3.11\nFDR q-val =0"}]},"mark":{"type":"text","align":"left","baseline":"middle","fontSize":17,"lineBreak":"\n","lineHeight":20,"color":"#111"},"encoding":{"text":{"field":"t"},"x":{"datum":2410,"axis":null},"y":{"datum":0.593,"axis":null}}}
]},
{"layer":[
{"data":{"values":[{"plot":"hits"}]},"mark":{"type":"rect","fill":"#fff","stroke":"#bbb","strokeWidth":1},"encoding":{"x":{"datum":0,"scale":{"domain":[0,4040],"range":[510.7,826.7],"nice":false},"axis":null},"x2":{"datum":4040},"y":{"datum":0,"scale":{"domain":[0,1],"range":[1094.5,1038.3],"nice":false},"axis":null},"y2":{"datum":1}}},
{"data":{"values":[{"rank":94},{"rank":171},{"rank":218},{"rank":269},{"rank":281},{"rank":294},{"rank":307},{"rank":324},{"rank":345},{"rank":392},{"rank":435},{"rank":452},{"rank":465},{"rank":482},{"rank":576},{"rank":652},{"rank":755},{"rank":823},{"rank":845},{"rank":990},{"rank":1049},{"rank":1531},{"rank":1544},{"rank":1787},{"rank":2141}]},"mark":{"type":"rule","color":"#444","strokeWidth":1},"encoding":{"x":{"field":"rank","type":"quantitative","axis":null},"y":{"datum":0.205,"axis":null},"y2":{"datum":0.96}}},
{"data":{"values":[{"start":0,"end":85,"shade":1},{"start":85,"end":661,"shade":2},{"start":661,"end":1023,"shade":3},{"start":1023,"end":1386,"shade":4},{"start":1386,"end":1633,"shade":5},{"start":1633,"end":1949,"shade":6},{"start":1949,"end":2303,"shade":7},{"start":2303,"end":2861,"shade":8},{"start":2861,"end":3582,"shade":9},{"start":3582,"end":3774,"shade":10},{"start":3774,"end":3881,"shade":11}]},"mark":"rect","encoding":{"x":{"field":"start","type":"quantitative","axis":null},"x2":{"field":"end"},"y":{"datum":0,"axis":null},"y2":{"datum":0.205},"color":{"field":"shade","type":"ordinal","scale":{"domain":[1,2,3,4,5,6,7,8,9,10,11],"range":["#EE3333","#F55055","#FF7080","#FF8888","#FFB8E0","#CCCCFF","#C0B8FF","#8888FF","#6A55EE","#2200CC","#44009F"]},"legend":null}}}
]},
{"layer":[
{"data":{"values":[{"plot":"metric"}]},"mark":{"type":"rect","fill":"#fff","stroke":"#bbb","strokeWidth":1},"encoding":{"x":{"datum":0,"scale":{"domain":[0,4040],"range":[510.7,826.7],"nice":false},"axis":null},"x2":{"datum":4040},"y":{"datum":-5.42,"scale":{"domain":[-5.42,4.75],"range":[1182.7,1094.5],"nice":false},"axis":null},"y2":{"datum":4.75}}},
{"data":{"values":[{"rank":0,"metric":3.6},{"rank":20,"metric":2.7},{"rank":50,"metric":2.2},{"rank":100,"metric":1.9},{"rank":200,"metric":1.5},{"rank":400,"metric":1.1},{"rank":800,"metric":0.7},{"rank":1200,"metric":0.35},{"rank":1627,"metric":0},{"rank":2000,"metric":-0.3},{"rank":2500,"metric":-0.65},{"rank":3000,"metric":-1},{"rank":3400,"metric":-1.4},{"rank":3600,"metric":-1.9},{"rank":3750,"metric":-2.7},{"rank":3830,"metric":-3.5},{"rank":3881,"metric":-5}]},"mark":{"type":"area","color":"#BBBBBB"},"encoding":{"x":{"field":"rank","type":"quantitative","axis":{"title":"Rank in Ordered Dataset","orient":"bottom","offset":-421.3,"values":[0,500,1000,1500,2000,2500,3000,3500,4000],"format":",d","domain":false,"tickColor":"#999","tickSize":3,"labelFontSize":8,"labelColor":"#555","labelPadding":2,"titleFontSize":9,"titleColor":"#555","titleX":669.7,"titleY":20}},"y":{"field":"metric","type":"quantitative","axis":{"title":"Ranked list metric (Signal2Noise)","orient":"left","offset":-510.7,"values":[-5,-2.5,0,2.5],"format":".1f","domain":false,"ticks":false,"labelFontSize":8,"labelColor":"#555","labelPadding":3,"titleFontSize":9,"titleColor":"#555","titleX":-26.7,"titleY":1138}}}},
{"data":{"values":[{"rank":1627}]},"mark":{"type":"rule","color":"#AAA","strokeWidth":1,"strokeDash":[3,2]},"encoding":{"x":{"field":"rank","type":"quantitative","axis":null},"y":{"datum":-5.42,"axis":null},"y2":{"datum":4.75}}},
{"data":{"values":[{"t":"SM+M","rank":452,"metric":2.27},{"t":"NS","rank":3446,"metric":-3.27}]},"mark":{"type":"text","align":"center","baseline":"middle","fontSize":17,"color":"#111"},"encoding":{"text":{"field":"t"},"x":{"field":"rank","type":"quantitative","axis":null},"y":{"field":"metric","type":"quantitative","axis":null}}},
{"data":{"values":[{"t":"'SM_M' (positively correlated)"}]},"mark":{"type":"text","align":"center","baseline":"middle","fontSize":8,"color":"#F55"},"encoding":{"text":{"field":"t"},"x":{"datum":670,"axis":null},"y":{"datum":4.3,"axis":null}}},
{"data":{"values":[{"t":"'NS' (negatively correlated)"}]},"mark":{"type":"text","align":"center","baseline":"middle","fontSize":8,"color":"#55F"},"encoding":{"text":{"field":"t"},"x":{"datum":2622,"axis":null},"y":{"datum":-4.73,"axis":null}}},
{"data":{"values":[{"t":"Zero cross at 1627"}]},"mark":{"type":"text","align":"center","baseline":"middle","fontSize":8,"color":"#333"},"encoding":{"text":{"field":"t"},"x":{"datum":1620,"axis":null},"y":{"datum":-0.42,"axis":null}}}
]},
{"data":{"values":[{"entry":"Enrichment profile","from":0.007,"to":0.057},{"entry":"Hits","from":0.371,"to":0.415},{"entry":"Ranking metric scores","from":0.579,"to":0.619}]},"layer":[
{"mark":{"type":"rect","fill":"#ECE9D8","stroke":"#333","strokeWidth":1.5},"encoding":{"x":{"datum":0,"scale":{"domain":[0,1],"range":[527,776.7]},"axis":null},"x2":{"datum":1},"y":{"datum":0,"scale":{"domain":[0,1],"range":[1214,1230]},"axis":null},"y2":{"datum":1}}},
{"mark":{"type":"rule","strokeWidth":2},"encoding":{"x":{"field":"from","type":"quantitative","axis":null},"x2":{"field":"to"},"y":{"datum":0.5,"axis":null},"color":{"field":"entry","type":"nominal","sort":null,"scale":{"range":["#2AE62A","#666666","#CCCCCC"]},"legend":null}}},
{"mark":{"type":"text","align":"left","baseline":"middle","fontSize":8.8,"dx":3,"color":"#555"},"encoding":{"text":{"field":"entry"},"x":{"field":"to","type":"quantitative","axis":null},"y":{"datum":0.5,"axis":null}}}
]},

{"data":{"values":[{"t":"Enrichment plot:\nKEGG_OXIDATIVE_PHOSPHORYLATION"}]},"layer":[
{"mark":{"type":"rect","color":"#ECE9D8"},"encoding":{"x":{"datum":0,"scale":{"domain":[0,1],"range":[471.7,834.3]},"axis":null},"x2":{"datum":1},"y":{"datum":0,"scale":{"domain":[0,1],"range":[1242.3,1604]},"axis":null},"y2":{"datum":1}}},
{"mark":{"type":"text","align":"center","baseline":"middle","fontWeight":"bold","fontSize":13,"lineBreak":"\n","lineHeight":16.5,"color":"#111"},"encoding":{"text":{"field":"t"},"x":{"datum":0.5,"axis":null},"y":{"datum":0.026,"axis":null}}}]},
{"layer":[
{"data":{"values":[{"plot":"ES"}]},"mark":{"type":"rect","fill":"#fff","stroke":"#bbb","strokeWidth":1},"encoding":{"x":{"datum":0,"scale":{"domain":[0,4075],"range":[512.7,828.3],"nice":false},"axis":null},"x2":{"datum":4075},"y":{"datum":-0.105,"scale":{"domain":[-0.105,0.579],"range":[1410,1280],"nice":false},"axis":null},"y2":{"datum":0.579}}},
{"data":{"values":[{"rank":500},{"rank":1000},{"rank":1500},{"rank":2000},{"rank":2500},{"rank":3000},{"rank":3500},{"rank":4000}]},"mark":{"type":"rule","color":"#EEE","strokeWidth":1},"encoding":{"x":{"field":"rank","type":"quantitative","axis":null},"y":{"datum":-0.105,"axis":null},"y2":{"datum":0.579}}},
{"data":{"values":[{"es":0.1},{"es":0.2},{"es":0.3},{"es":0.4},{"es":0.5}]},"mark":{"type":"rule","color":"#EEE","strokeWidth":1},"encoding":{"y":{"field":"es","type":"quantitative","axis":null},"x":{"datum":0,"axis":null},"x2":{"datum":4075}}},
{"data":{"values":[{"es":0}]},"mark":{"type":"rule","color":"#999","strokeWidth":1},"encoding":{"y":{"field":"es","type":"quantitative","axis":null},"x":{"datum":0,"axis":null},"x2":{"datum":4075}}},
{"data":{"values":[{"rank":0,"es":0},{"rank":310,"es":-0.082},{"rank":314,"es":0.07},{"rank":495,"es":0.018},{"rank":499,"es":0.079},{"rank":521,"es":0.167},{"rank":538,"es":0.228},{"rank":603,"es":0.211},{"rank":611,"es":0.258},{"rank":637,"es":0.258},{"rank":646,"es":0.298},{"rank":732,"es":0.277},{"rank":736,"es":0.316},{"rank":762,"es":0.325},{"rank":771,"es":0.356},{"rank":805,"es":0.386},{"rank":827,"es":0.412},{"rank":891,"es":0.395},{"rank":900,"es":0.465},{"rank":934,"es":0.491},{"rank":1042,"es":0.465},{"rank":1055,"es":0.496},{"rank":1128,"es":0.474},{"rank":1141,"es":0.5},{"rank":1227,"es":0.474},{"rank":1244,"es":0.518},{"rank":1300,"es":0.544},{"rank":1322,"es":0.553},{"rank":1373,"es":0.553},{"rank":1515,"es":0.514},{"rank":1537,"es":0.535},{"rank":1903,"es":0.439},{"rank":1967,"es":0.43},{"rank":2807,"es":0.214},{"rank":2820,"es":0.275},{"rank":3892,"es":0}]},"mark":{"type":"line","color":"#2AE62A","strokeWidth":2.5},"encoding":{"x":{"field":"rank","type":"quantitative","axis":null},"y":{"field":"es","type":"quantitative","axis":{"title":"Enrichment score (ES)","orient":"left","offset":-512.7,"values":[-0.1,0,0.1,0.2,0.3,0.4,0.5],"format":".1f","domain":false,"ticks":false,"labelFontSize":8,"labelColor":"#555","labelPadding":3,"titleFontSize":9,"titleColor":"#555","titleX":-25,"titleY":1345}}}},
{"data":{"values":[{"t":"NES=2.14\nFDR q-val =0"}]},"mark":{"type":"text","align":"left","baseline":"middle","fontSize":17,"lineBreak":"\n","lineHeight":20,"color":"#111"},"encoding":{"text":{"field":"t"},"x":{"datum":2785,"axis":null},"y":{"datum":0.444,"axis":null}}}
]},
{"layer":[
{"data":{"values":[{"plot":"hits"}]},"mark":{"type":"rect","fill":"#fff","stroke":"#bbb","strokeWidth":1},"encoding":{"x":{"datum":0,"scale":{"domain":[0,4075],"range":[512.7,828.3],"nice":false},"axis":null},"x2":{"datum":4075},"y":{"datum":0,"scale":{"domain":[0,1],"range":[1466.7,1410],"nice":false},"axis":null},"y2":{"datum":1}}},
{"data":{"values":[{"rank":310},{"rank":486},{"rank":499},{"rank":512},{"rank":525},{"rank":538},{"rank":598},{"rank":637},{"rank":719},{"rank":745},{"rank":771},{"rank":796},{"rank":818},{"rank":891},{"rank":913},{"rank":938},{"rank":1059},{"rank":1136},{"rank":1240},{"rank":1253},{"rank":1266},{"rank":1283},{"rank":1296},{"rank":1309},{"rank":1369},{"rank":1524},{"rank":1774},{"rank":1920},{"rank":2820}]},"mark":{"type":"rule","color":"#444","strokeWidth":1},"encoding":{"x":{"field":"rank","type":"quantitative","axis":null},"y":{"datum":0.194,"axis":null},"y2":{"datum":0.96}}},
{"data":{"values":[{"start":0,"end":95,"shade":1},{"start":95,"end":525,"shade":2},{"start":525,"end":848,"shade":3},{"start":848,"end":1429,"shade":4},{"start":1429,"end":1774,"shade":5},{"start":1774,"end":2118,"shade":6},{"start":2118,"end":2449,"shade":7},{"start":2449,"end":2957,"shade":8},{"start":2957,"end":3633,"shade":9},{"start":3633,"end":3818,"shade":10},{"start":3818,"end":3892,"shade":11}]},"mark":"rect","encoding":{"x":{"field":"start","type":"quantitative","axis":null},"x2":{"field":"end"},"y":{"datum":0,"axis":null},"y2":{"datum":0.194},"color":{"field":"shade","type":"ordinal","scale":{"domain":[1,2,3,4,5,6,7,8,9,10,11],"range":["#EE3333","#F55055","#FF7080","#FF8888","#FFB8E0","#CCCCFF","#C0B8FF","#8888FF","#6A55EE","#2200CC","#44009F"]},"legend":null}}}
]},
{"layer":[
{"data":{"values":[{"plot":"metric"}]},"mark":{"type":"rect","fill":"#fff","stroke":"#bbb","strokeWidth":1},"encoding":{"x":{"datum":0,"scale":{"domain":[0,4075],"range":[512.7,828.3],"nice":false},"axis":null},"x2":{"datum":4075},"y":{"datum":-5.19,"scale":{"domain":[-5.19,5.07],"range":[1555.7,1466.7],"nice":false},"axis":null},"y2":{"datum":5.07}}},
{"data":{"values":[{"rank":0,"metric":3.7},{"rank":20,"metric":2.9},{"rank":50,"metric":2.3},{"rank":100,"metric":1.9},{"rank":200,"metric":1.5},{"rank":400,"metric":1.1},{"rank":800,"metric":0.7},{"rank":1200,"metric":0.4},{"rank":1778,"metric":0},{"rank":2100,"metric":-0.3},{"rank":2600,"metric":-0.65},{"rank":3100,"metric":-1},{"rank":3500,"metric":-1.4},{"rank":3700,"metric":-2},{"rank":3800,"metric":-2.8},{"rank":3860,"metric":-3.6},{"rank":3892,"metric":-5}]},"mark":{"type":"area","color":"#BBBBBB"},"encoding":{"x":{"field":"rank","type":"quantitative","axis":{"title":"Rank in Ordered Dataset","orient":"bottom","offset":-48.3,"values":[0,500,1000,1500,2000,2500,3000,3500,4000],"format":",d","domain":false,"tickColor":"#999","tickSize":3,"labelFontSize":8,"labelColor":"#555","labelPadding":2,"titleFontSize":9,"titleColor":"#555","titleX":671,"titleY":20}},"y":{"field":"metric","type":"quantitative","axis":{"title":"Ranked list metric (Signal2Noise)","orient":"left","offset":-512.7,"values":[-5,-2.5,0,2.5,5],"format":".1f","domain":false,"ticks":false,"labelFontSize":8,"labelColor":"#555","labelPadding":3,"titleFontSize":9,"titleColor":"#555","titleX":-26.7,"titleY":1511}}}},
{"data":{"values":[{"rank":1778}]},"mark":{"type":"rule","color":"#AAA","strokeWidth":1,"strokeDash":[3,2]},"encoding":{"x":{"field":"rank","type":"quantitative","axis":null},"y":{"datum":-5.19,"axis":null},"y2":{"datum":5.07}}},
{"data":{"values":[{"t":"SM+M","rank":500,"metric":2.31},{"t":"M","rank":3517,"metric":-3.5}]},"mark":{"type":"text","align":"center","baseline":"middle","fontSize":17,"color":"#111"},"encoding":{"text":{"field":"t"},"x":{"field":"rank","type":"quantitative","axis":null},"y":{"field":"metric","type":"quantitative","axis":null}}},
{"data":{"values":[{"t":"'SM_M' (positively correlated)"}]},"mark":{"type":"text","align":"center","baseline":"middle","fontSize":8,"color":"#F55"},"encoding":{"text":{"field":"t"},"x":{"datum":690,"axis":null},"y":{"datum":4.58,"axis":null}}},
{"data":{"values":[{"t":"'M' (negatively correlated)"}]},"mark":{"type":"text","align":"center","baseline":"middle","fontSize":8,"color":"#55F"},"encoding":{"text":{"field":"t"},"x":{"datum":2613,"axis":null},"y":{"datum":-4.46,"axis":null}}},
{"data":{"values":[{"t":"Zero cross at 1778"}]},"mark":{"type":"text","align":"center","baseline":"middle","fontSize":8,"color":"#333"},"encoding":{"text":{"field":"t"},"x":{"datum":1765,"axis":null},"y":{"datum":-0.08,"axis":null}}}
]},
{"data":{"values":[{"entry":"Enrichment profile","from":0.007,"to":0.057},{"entry":"Hits","from":0.371,"to":0.415},{"entry":"Ranking metric scores","from":0.579,"to":0.619}]},"layer":[
{"mark":{"type":"rect","fill":"#ECE9D8","stroke":"#333","strokeWidth":1.5},"encoding":{"x":{"datum":0,"scale":{"domain":[0,1],"range":[529,777.7]},"axis":null},"x2":{"datum":1},"y":{"datum":0,"scale":{"domain":[0,1],"range":[1587,1602]},"axis":null},"y2":{"datum":1}}},
{"mark":{"type":"rule","strokeWidth":2},"encoding":{"x":{"field":"from","type":"quantitative","axis":null},"x2":{"field":"to"},"y":{"datum":0.5,"axis":null},"color":{"field":"entry","type":"nominal","sort":null,"scale":{"range":["#2AE62A","#666666","#CCCCCC"]},"legend":null}}},
{"mark":{"type":"text","align":"left","baseline":"middle","fontSize":8.8,"dx":3,"color":"#555"},"encoding":{"text":{"field":"entry"},"x":{"field":"to","type":"quantitative","axis":null},"y":{"datum":0.5,"axis":null}}}
]},

{"data":{"values":[
{"gene":"Ndufs6","sample":"SM+M 1","level":1},{"gene":"Ndufs6","sample":"SM+M 2","level":5},{"gene":"Ndufs6","sample":"NS 1","level":11},{"gene":"Ndufs6","sample":"NS 2","level":12},
{"gene":"Uqcr11","sample":"SM+M 1","level":1},{"gene":"Uqcr11","sample":"SM+M 2","level":5},{"gene":"Uqcr11","sample":"NS 1","level":10},{"gene":"Uqcr11","sample":"NS 2","level":12},
{"gene":"Ndufa8","sample":"SM+M 1","level":1},{"gene":"Ndufa8","sample":"SM+M 2","level":4},{"gene":"Ndufa8","sample":"NS 1","level":10},{"gene":"Ndufa8","sample":"NS 2","level":12},
{"gene":"Atp5d","sample":"SM+M 1","level":1},{"gene":"Atp5d","sample":"SM+M 2","level":4},{"gene":"Atp5d","sample":"NS 1","level":11},{"gene":"Atp5d","sample":"NS 2","level":12},
{"gene":"Atp5o","sample":"SM+M 1","level":1},{"gene":"Atp5o","sample":"SM+M 2","level":4},{"gene":"Atp5o","sample":"NS 1","level":11},{"gene":"Atp5o","sample":"NS 2","level":12},
{"gene":"Ndufc1","sample":"SM+M 1","level":1},{"gene":"Ndufc1","sample":"SM+M 2","level":3},{"gene":"Ndufc1","sample":"NS 1","level":12},{"gene":"Ndufc1","sample":"NS 2","level":12},
{"gene":"Ndufb4","sample":"SM+M 1","level":1},{"gene":"Ndufb4","sample":"SM+M 2","level":6},{"gene":"Ndufb4","sample":"NS 1","level":11},{"gene":"Ndufb4","sample":"NS 2","level":12},
{"gene":"Uqcr10","sample":"SM+M 1","level":1},{"gene":"Uqcr10","sample":"SM+M 2","level":6},{"gene":"Uqcr10","sample":"NS 1","level":10},{"gene":"Uqcr10","sample":"NS 2","level":12},
{"gene":"Atp5e","sample":"SM+M 1","level":1},{"gene":"Atp5e","sample":"SM+M 2","level":6},{"gene":"Atp5e","sample":"NS 1","level":10},{"gene":"Atp5e","sample":"NS 2","level":12},
{"gene":"Atp5b","sample":"SM+M 1","level":1},{"gene":"Atp5b","sample":"SM+M 2","level":4},{"gene":"Atp5b","sample":"NS 1","level":11},{"gene":"Atp5b","sample":"NS 2","level":12},
{"gene":"Cox6b1","sample":"SM+M 1","level":1},{"gene":"Cox6b1","sample":"SM+M 2","level":6},{"gene":"Cox6b1","sample":"NS 1","level":11},{"gene":"Cox6b1","sample":"NS 2","level":12},
{"gene":"Cox6a1","sample":"SM+M 1","level":1},{"gene":"Cox6a1","sample":"SM+M 2","level":6},{"gene":"Cox6a1","sample":"NS 1","level":9},{"gene":"Cox6a1","sample":"NS 2","level":12},
{"gene":"Ndufv3","sample":"SM+M 1","level":1},{"gene":"Ndufv3","sample":"SM+M 2","level":4},{"gene":"Ndufv3","sample":"NS 1","level":8},{"gene":"Ndufv3","sample":"NS 2","level":12},
{"gene":"Sdhd","sample":"SM+M 1","level":1},{"gene":"Sdhd","sample":"SM+M 2","level":7},{"gene":"Sdhd","sample":"NS 1","level":12},{"gene":"Sdhd","sample":"NS 2","level":10},
{"gene":"Ndufa2","sample":"SM+M 1","level":1},{"gene":"Ndufa2","sample":"SM+M 2","level":5},{"gene":"Ndufa2","sample":"NS 1","level":12},{"gene":"Ndufa2","sample":"NS 2","level":12},
{"gene":"Ppa2","sample":"SM+M 1","level":1},{"gene":"Ppa2","sample":"SM+M 2","level":4},{"gene":"Ppa2","sample":"NS 1","level":7},{"gene":"Ppa2","sample":"NS 2","level":12},
{"gene":"Atp5g2","sample":"SM+M 1","level":1},{"gene":"Atp5g2","sample":"SM+M 2","level":6},{"gene":"Atp5g2","sample":"NS 1","level":12},{"gene":"Atp5g2","sample":"NS 2","level":11},
{"gene":"Ndufa6","sample":"SM+M 1","level":1},{"gene":"Ndufa6","sample":"SM+M 2","level":2},{"gene":"Ndufa6","sample":"NS 1","level":10},{"gene":"Ndufa6","sample":"NS 2","level":12},
{"gene":"Ndufs7","sample":"SM+M 1","level":1},{"gene":"Ndufs7","sample":"SM+M 2","level":4},{"gene":"Ndufs7","sample":"NS 1","level":12},{"gene":"Ndufs7","sample":"NS 2","level":8},
{"gene":"Cox4i1","sample":"SM+M 1","level":1},{"gene":"Cox4i1","sample":"SM+M 2","level":8},{"gene":"Cox4i1","sample":"NS 1","level":8},{"gene":"Cox4i1","sample":"NS 2","level":12},
{"gene":"Ndufs3","sample":"SM+M 1","level":9},{"gene":"Ndufs3","sample":"SM+M 2","level":1},{"gene":"Ndufs3","sample":"NS 1","level":10},{"gene":"Ndufs3","sample":"NS 2","level":12},
{"gene":"Atp5f1","sample":"SM+M 1","level":1},{"gene":"Atp5f1","sample":"SM+M 2","level":1},{"gene":"Atp5f1","sample":"NS 1","level":12},{"gene":"Atp5f1","sample":"NS 2","level":7},
{"gene":"Uqcrh","sample":"SM+M 1","level":1},{"gene":"Uqcrh","sample":"SM+M 2","level":12},{"gene":"Uqcrh","sample":"NS 1","level":12},{"gene":"Uqcrh","sample":"NS 2","level":12},
{"gene":"Ndufb8","sample":"SM+M 1","level":1},{"gene":"Ndufb8","sample":"SM+M 2","level":11},{"gene":"Ndufb8","sample":"NS 1","level":8},{"gene":"Ndufb8","sample":"NS 2","level":12},
{"gene":"Atp6v1g2","sample":"SM+M 1","level":12},{"gene":"Atp6v1g2","sample":"SM+M 2","level":1},{"gene":"Atp6v1g2","sample":"NS 1","level":6},{"gene":"Atp6v1g2","sample":"NS 2","level":8},
{"gene":"Atp6ap1","sample":"SM+M 1","level":12},{"gene":"Atp6ap1","sample":"SM+M 2","level":9},{"gene":"Atp6ap1","sample":"NS 1","level":12},{"gene":"Atp6ap1","sample":"NS 2","level":1},
{"gene":"Tcirg1","sample":"SM+M 1","level":12},{"gene":"Tcirg1","sample":"SM+M 2","level":5},{"gene":"Tcirg1","sample":"NS 1","level":4},{"gene":"Tcirg1","sample":"NS 2","level":1}
]},"mark":{"type":"rect","stroke":"#000","strokeWidth":1.5},"encoding":{"x":{"field":"sample","type":"nominal","sort":null,"scale":{"range":[891,981.7],"padding":0},"axis":null},"y":{"field":"gene","type":"nominal","sort":null,"scale":{"range":[933.8,1567.3],"padding":0},"axis":{"title":null,"orient":"right","offset":-392.3,"domain":false,"ticks":false,"labelFontSize":18.5,"labelPadding":10,"labelOffset":-1.5,"labelColor":"#111","labelLimit":200}},"color":{"field":"level","type":"ordinal","scale":{"domain":[1,2,3,4,5,6,7,8,9,10,11,12],"range":["#D50A00","#F03C3C","#FF5558","#FF6A7A","#FF8288","#FFBCE8","#D2D4FF","#C0BCFF","#8A8CFF","#6E58F0","#2400CC","#4000A0"]},"legend":null}}},
{"layer":[
{"data":{"values":[{"from":0.088,"to":0.419},{"from":0.584,"to":0.915}]},"mark":{"type":"rule","color":"#000","strokeWidth":1.5},"encoding":{"x":{"field":"from","type":"quantitative","scale":{"domain":[0,1],"range":[891,981.7]},"axis":null},"x2":{"field":"to"},"y":{"datum":0.829,"scale":{"domain":[0,1],"range":[900,935]},"axis":null}}},
{"data":{"values":[{"t":"SM+M"}]},"mark":{"type":"text","align":"center","baseline":"middle","angle":315,"fontSize":15,"color":"#111"},"encoding":{"text":{"field":"t"},"x":{"datum":0.375,"axis":null},"y":{"datum":0.08,"axis":null}}},
{"data":{"values":[{"t":"NS"}]},"mark":{"type":"text","align":"center","baseline":"middle","angle":315,"fontSize":15,"color":"#111"},"encoding":{"text":{"field":"t"},"x":{"datum":0.794,"axis":null},"y":{"datum":0.417,"axis":null}}},
{"data":{"values":[{"t":"Gene Name"}]},"mark":{"type":"text","align":"left","baseline":"middle","fontSize":16.5,"color":"#111"},"encoding":{"text":{"field":"t"},"x":{"datum":1.08,"axis":null},"y":{"datum":0.314,"axis":null}}}
]},
{"data":{"values":[
{"gene":"Ndufa2","sample":"SM+M 1","level":1},{"gene":"Ndufa2","sample":"SM+M 2","level":4},{"gene":"Ndufa2","sample":"M 1","level":9},{"gene":"Ndufa2","sample":"M 2","level":12},
{"gene":"Uqcr11","sample":"SM+M 1","level":1},{"gene":"Uqcr11","sample":"SM+M 2","level":5},{"gene":"Uqcr11","sample":"M 1","level":8},{"gene":"Uqcr11","sample":"M 2","level":12},
{"gene":"Ndufa6","sample":"SM+M 1","level":1},{"gene":"Ndufa6","sample":"SM+M 2","level":2},{"gene":"Ndufa6","sample":"M 1","level":11},{"gene":"Ndufa6","sample":"M 2","level":12},
{"gene":"Atp5o","sample":"SM+M 1","level":1},{"gene":"Atp5o","sample":"SM+M 2","level":4},{"gene":"Atp5o","sample":"M 1","level":7},{"gene":"Atp5o","sample":"M 2","level":12},
{"gene":"Atp5d","sample":"SM+M 1","level":1},{"gene":"Atp5d","sample":"SM+M 2","level":4},{"gene":"Atp5d","sample":"M 1","level":7},{"gene":"Atp5d","sample":"M 2","level":12},
{"gene":"Ndufs6","sample":"SM+M 1","level":1},{"gene":"Ndufs6","sample":"SM+M 2","level":7},{"gene":"Ndufs6","sample":"M 1","level":9},{"gene":"Ndufs6","sample":"M 2","level":12},
{"gene":"Ndufs7","sample":"SM+M 1","level":1},{"gene":"Ndufs7","sample":"SM+M 2","level":3},{"gene":"Ndufs7","sample":"M 1","level":8},{"gene":"Ndufs7","sample":"M 2","level":12},
{"gene":"Atp5g2","sample":"SM+M 1","level":1},{"gene":"Atp5g2","sample":"SM+M 2","level":5},{"gene":"Atp5g2","sample":"M 1","level":6},{"gene":"Atp5g2","sample":"M 2","level":12},
{"gene":"Ndufb4","sample":"SM+M 1","level":1},{"gene":"Ndufb4","sample":"SM+M 2","level":8},{"gene":"Ndufb4","sample":"M 1","level":8},{"gene":"Ndufb4","sample":"M 2","level":12},
{"gene":"Atp5b","sample":"SM+M 1","level":1},{"gene":"Atp5b","sample":"SM+M 2","level":4},{"gene":"Atp5b","sample":"M 1","level":6},{"gene":"Atp5b","sample":"M 2","level":12},
{"gene":"Uqcrh","sample":"SM+M 1","level":1},{"gene":"Uqcrh","sample":"SM+M 2","level":10},{"gene":"Uqcrh","sample":"M 1","level":11},{"gene":"Uqcrh","sample":"M 2","level":12},
{"gene":"Atp5e","sample":"SM+M 1","level":1},{"gene":"Atp5e","sample":"SM+M 2","level":7},{"gene":"Atp5e","sample":"M 1","level":6},{"gene":"Atp5e","sample":"M 2","level":12},
{"gene":"Ndufa8","sample":"SM+M 1","level":1},{"gene":"Ndufa8","sample":"SM+M 2","level":5},{"gene":"Ndufa8","sample":"M 1","level":4},{"gene":"Ndufa8","sample":"M 2","level":12},
{"gene":"Cox4i1","sample":"SM+M 1","level":1},{"gene":"Cox4i1","sample":"SM+M 2","level":8},{"gene":"Cox4i1","sample":"M 1","level":6},{"gene":"Cox4i1","sample":"M 2","level":12},
{"gene":"Ppa2","sample":"SM+M 1","level":1},{"gene":"Ppa2","sample":"SM+M 2","level":5},{"gene":"Ppa2","sample":"M 1","level":10},{"gene":"Ppa2","sample":"M 2","level":12},
{"gene":"Cox6a1","sample":"SM+M 1","level":1},{"gene":"Cox6a1","sample":"SM+M 2","level":7},{"gene":"Cox6a1","sample":"M 1","level":4},{"gene":"Cox6a1","sample":"M 2","level":12},
{"gene":"Ndufb8","sample":"SM+M 1","level":1},{"gene":"Ndufb8","sample":"SM+M 2","level":4},{"gene":"Ndufb8","sample":"M 1","level":3},{"gene":"Ndufb8","sample":"M 2","level":12},
{"gene":"Atp5f1","sample":"SM+M 1","level":1},{"gene":"Atp5f1","sample":"SM+M 2","level":1},{"gene":"Atp5f1","sample":"M 1","level":1},{"gene":"Atp5f1","sample":"M 2","level":12},
{"gene":"Uqcr10","sample":"SM+M 1","level":1},{"gene":"Uqcr10","sample":"SM+M 2","level":8},{"gene":"Uqcr10","sample":"M 1","level":4},{"gene":"Uqcr10","sample":"M 2","level":12},
{"gene":"Sdhd","sample":"SM+M 1","level":1},{"gene":"Sdhd","sample":"SM+M 2","level":9},{"gene":"Sdhd","sample":"M 1","level":5},{"gene":"Sdhd","sample":"M 2","level":12},
{"gene":"Atp6ap1","sample":"SM+M 1","level":3},{"gene":"Atp6ap1","sample":"SM+M 2","level":1},{"gene":"Atp6ap1","sample":"M 1","level":10},{"gene":"Atp6ap1","sample":"M 2","level":12},
{"gene":"Cox6b1","sample":"SM+M 1","level":1},{"gene":"Cox6b1","sample":"SM+M 2","level":7},{"gene":"Cox6b1","sample":"M 1","level":1},{"gene":"Cox6b1","sample":"M 2","level":12},
{"gene":"Ndufs3","sample":"SM+M 1","level":12},{"gene":"Ndufs3","sample":"SM+M 2","level":1},{"gene":"Ndufs3","sample":"M 1","level":7},{"gene":"Ndufs3","sample":"M 2","level":9},
{"gene":"Ndufc1","sample":"SM+M 1","level":3},{"gene":"Ndufc1","sample":"SM+M 2","level":7},{"gene":"Ndufc1","sample":"M 1","level":1},{"gene":"Ndufc1","sample":"M 2","level":12},
{"gene":"Ndufv3","sample":"SM+M 1","level":5},{"gene":"Ndufv3","sample":"SM+M 2","level":8},{"gene":"Ndufv3","sample":"M 1","level":1},{"gene":"Ndufv3","sample":"M 2","level":12},
{"gene":"Atp6v1g2","sample":"SM+M 1","level":12},{"gene":"Atp6v1g2","sample":"SM+M 2","level":1},{"gene":"Atp6v1g2","sample":"M 1","level":2},{"gene":"Atp6v1g2","sample":"M 2","level":8},
{"gene":"Tcirg1","sample":"SM+M 1","level":12},{"gene":"Tcirg1","sample":"SM+M 2","level":7},{"gene":"Tcirg1","sample":"M 1","level":1},{"gene":"Tcirg1","sample":"M 2","level":1}
]},"mark":{"type":"rect","stroke":"#000","strokeWidth":1.5},"encoding":{"x":{"field":"sample","type":"nominal","sort":null,"scale":{"range":[1125,1216],"padding":0},"axis":null},"y":{"field":"gene","type":"nominal","sort":null,"scale":{"range":[933.8,1566.4],"padding":0},"axis":{"title":null,"orient":"right","offset":-158,"domain":false,"ticks":false,"labelFontSize":18.5,"labelPadding":8.7,"labelOffset":-1.5,"labelColor":"#111","labelLimit":200}},"color":{"field":"level","type":"ordinal","scale":{"domain":[1,2,3,4,5,6,7,8,9,10,11,12],"range":["#D50A00","#F03C3C","#FF5558","#FF6A7A","#FF8288","#FFBCE8","#D2D4FF","#C0BCFF","#8A8CFF","#6E58F0","#2400CC","#4000A0"]},"legend":null}}},
{"layer":[
{"data":{"values":[{"from":0.088,"to":0.418},{"from":0.582,"to":0.923}]},"mark":{"type":"rule","color":"#000","strokeWidth":1.5},"encoding":{"x":{"field":"from","type":"quantitative","scale":{"domain":[0,1],"range":[1125,1216]},"axis":null},"x2":{"field":"to"},"y":{"datum":0.829,"scale":{"domain":[0,1],"range":[900,935]},"axis":null}}},
{"data":{"values":[{"t":"SM+M"}]},"mark":{"type":"text","align":"center","baseline":"middle","angle":315,"fontSize":15,"color":"#111"},"encoding":{"text":{"field":"t"},"x":{"datum":0.418,"axis":null},"y":{"datum":0.06,"axis":null}}},
{"data":{"values":[{"t":"M"}]},"mark":{"type":"text","align":"center","baseline":"middle","angle":315,"fontSize":15,"color":"#111"},"encoding":{"text":{"field":"t"},"x":{"datum":0.681,"axis":null},"y":{"datum":0.486,"axis":null}}},
{"data":{"values":[{"t":"Gene Name"}]},"mark":{"type":"text","align":"left","baseline":"middle","fontSize":16.5,"color":"#111"},"encoding":{"text":{"field":"t"},"x":{"datum":1.052,"axis":null},"y":{"datum":0.257,"axis":null}}}
]}
]}
